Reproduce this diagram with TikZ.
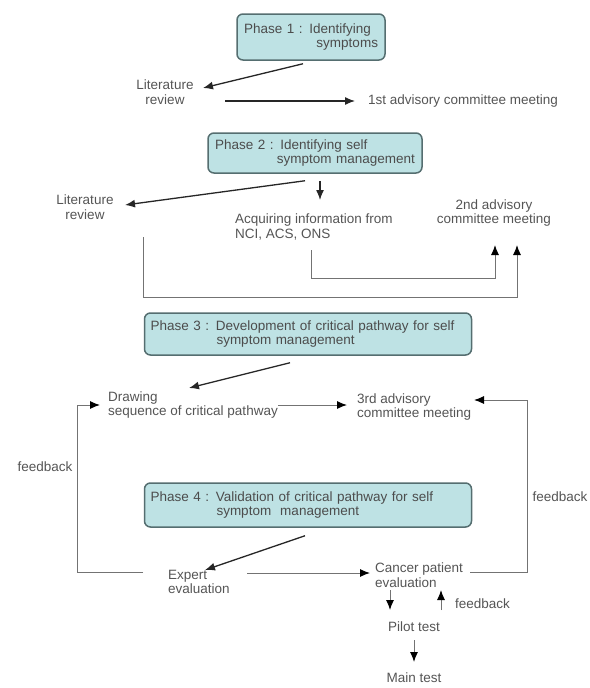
\documentclass[tikz,border=0pt]{standalone}
\usepackage{fontspec}
\setmainfont{Liberation Sans}
\usetikzlibrary{arrows.meta,calc}
\definecolor{phasefill}{RGB}{190,226,228}
\definecolor{phaseline}{RGB}{85,110,112}
\definecolor{txt}{RGB}{85,85,85}
\begin{document}
\begin{tikzpicture}[x=1pt,y=-1pt,
  every node/.style={font=\fontsize{13.5}{14.5}\selectfont, text=txt, inner sep=0pt},
  phase/.style={draw=phaseline, line width=1.5pt, fill=phasefill, rounded corners=6pt, text=black!70},
  arr/.style={-{Latex[length=10pt,width=8pt]}, line width=1.3pt, draw=black!85},
  fbarr/.style={-{Latex[length=10pt,width=8pt,color=black]}, line width=1pt, draw=black!55},
  fbline/.style={line width=1pt, draw=black!55}]
\useasboundingbox (0,0) rectangle (589,688);
\fill[white] (0,0) rectangle (589,688);

% phase boxes
\node[phase, minimum width=148pt, minimum height=46pt, text width=134pt, align=left] (p1) at (311,37)
  {Phase 1 : Identifying\\\hspace*{\fill}symptoms};
\node[phase, minimum width=214pt, minimum height=40pt, text width=200pt, align=left] (p2) at (315,153)
  {Phase 2 : Identifying self\\\hspace*{\fill}symptom management};
\node[phase, minimum width=327pt, minimum height=42pt, text width=315pt, align=left] (p3) at (308,334)
  {Phase 3 : Development of critical pathway for self\\\hspace*{66pt}symptom management};
\node[phase, minimum width=327pt, minimum height=44pt, text width=315pt, align=left] (p4) at (308,505)
  {Phase 4 : Validation of critical pathway for self\\\hspace*{66pt}symptom\ \ management};

% text nodes
\node[align=center] (lit1) at (165,92) {Literature\\review};
\node[anchor=west] (adv1) at (368,101) {1st advisory committee meeting};
\node[align=center] (lit2) at (85,207) {Literature\\review};
\node[anchor=west, align=left] (acq) at (235,227) {Acquiring information from\\NCI, ACS, ONS};
\node[align=center] (adv2) at (494,213) {2nd advisory\\committee meeting};
\node[anchor=west, align=left] (drw) at (108,405) {Drawing\\sequence of critical pathway};
\node[anchor=west, align=left] (adv3) at (357,407) {3rd advisory\\committee meeting};
\node (fbL) at (45,467) {feedback};
\node (fbR) at (560,497) {feedback};
\node[anchor=west, align=left] (expert) at (168,582) {Expert\\evaluation};
\node[anchor=west, align=left] (cancer) at (375,575) {Cancer patient\\evaluation};
\node[anchor=west] (fbS) at (455,604) {feedback};
\node (pilot) at (414,627) {Pilot test};
\node (main) at (414,678) {Main test};

% connectors
\draw[arr] ($(p1.south)+(-8,3)$) -- ($(lit1)+(38,-4)$);
\draw[arr] ($(adv1.west)+(-143,0)$) -- ($(adv1.west)+(-13,0)$);
\draw[arr] ($(p2.south)+(-10,7)$) -- ($(lit2)+(40,-2)$);
\draw[arr] ($(p2.south)+(5,7)$) -- ($(acq.west)+(85,-27)$);
\draw[fbarr] ($(acq.west)+(76,23)$) -- ++(0,28) -| ($(adv2)+(1,32)$);
\draw[fbarr] ($(lit2)+(58,30)$) -- ++(0,60) -| ($(adv2)+(23,32)$);
\draw[arr] ($(p3.south)+(-18,7)$) -- ($(drw.west)+(81,-17)$);
\draw[fbarr] ($(drw.west)+(170,0)$) -- ($(adv3.west)+(-10,-2)$);
\draw[fbarr] ($(expert.west)+(-25,-10)$) -| ($(drw.west)+(-31,0)$) -- ($(drw.west)+(-8,0)$);
\draw[fbarr] ($(cancer.west)+(95,-3)$) -| ($(adv3.west)+(170,-7)$) -- ($(adv3.west)+(117,-7)$);
\draw[arr] ($(p4.south)+(-3,8)$) -- ($(expert.west)+(37,-12)$);
\draw[fbarr] ($(expert.west)+(79,-9)$) -- ($(cancer.west)+(-5,-2)$);
\draw[fbarr] ($(cancer.west)+(15,15)$) -- ($(pilot)+(-24,-17)$);
\draw[fbarr] ($(pilot)+(27,-17)$) -- ($(cancer.west)+(66,15)$);
\draw[fbarr] ($(pilot)+(0,13)$) -- ($(main)+(0,-16)$);
\end{tikzpicture}
\end{document}
